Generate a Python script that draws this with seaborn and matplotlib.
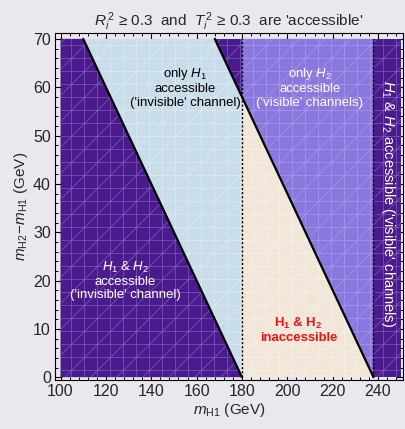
import matplotlib
matplotlib.use('Agg')
import matplotlib.pyplot as plt
import seaborn as sns
import pandas as pd
from matplotlib.ticker import MultipleLocator

# mass window of the scan (GeV)
mh1_min, mh1_max = 100, 250
dm_min, dm_max = 0, 70

# thresholds: diagonal lines are m_H2 = const, vertical lines are m_H1 = const
mh2_cut_invisible = 180
mh2_cut_visible = 238
mh1_cut_invisible = 180
mh1_cut_visible = 238

region_colors = {
    'both': '#4b1b8e',
    'only_h1': '#c8dcea',
    'only_h2': '#8b78de',
    'none': '#f1e7d9',
}
hatch_colors = {
    'both': '#7450b4',
    'only_h1': '#d9e7f1',
    'only_h2': '#a394e8',
    'none': '#f6efe5',
}

# lower dpi gives a finer hatch mesh; k rescales sizes back to the 100 dpi look
DPI = 78
k = 100 / DPI

sns.set_theme(style='ticks')
plt.rcParams['font.family'] = ['Liberation Sans', 'DejaVu Sans']
plt.rcParams['mathtext.fontset'] = 'custom'
plt.rcParams['mathtext.rm'] = 'Liberation Sans'
plt.rcParams['mathtext.it'] = 'Liberation Sans:italic'
plt.rcParams['mathtext.bf'] = 'Liberation Sans:bold'
plt.rcParams['hatch.linewidth'] = 0.6 * k

bg = '#ebe7ef'
fig = plt.figure(figsize=(405 / DPI, 429 / DPI), dpi=DPI, facecolor=bg)
ax = fig.add_axes([0.136, 0.114, 0.859, 0.809])
ax.set_facecolor(bg)


def diag(cut, y):
    # m_H1 on the line m_H2 = cut for a given m_H2 - m_H1
    return cut - y


def region(xs, ys, key):
    ax.fill(xs, ys, facecolor=region_colors[key], edgecolor=hatch_colors[key],
            hatch='/+', linewidth=0, zorder=1)


a_top = diag(mh2_cut_invisible, dm_max)
a_bot = diag(mh2_cut_invisible, dm_min)
b_top = diag(mh2_cut_visible, dm_max)
b_bot = diag(mh2_cut_visible, dm_min)
b_at_v1 = mh2_cut_visible - mh1_cut_invisible

# both accessible, invisible channel (left)
region([mh1_min, a_top, a_bot, mh1_min], [dm_max, dm_max, dm_min, dm_min], 'both')
# only H1 accessible
region([a_top, b_top, mh1_cut_invisible, mh1_cut_invisible, a_bot],
       [dm_max, dm_max, b_at_v1, dm_min, dm_min], 'only_h1')
# small top triangle: both accessible
region([b_top, mh1_cut_invisible, mh1_cut_invisible],
       [dm_max, dm_max, b_at_v1], 'both')
# inaccessible
region([mh1_cut_invisible, mh1_cut_invisible, b_bot],
       [b_at_v1, dm_min, dm_min], 'none')
# only H2 accessible
region([mh1_cut_invisible, mh1_cut_visible, mh1_cut_visible, mh1_cut_invisible],
       [dm_max, dm_max, dm_min, b_at_v1], 'only_h2')
# both accessible, visible channels (right)
region([mh1_cut_visible, mh1_max, mh1_max, mh1_cut_visible],
       [dm_max, dm_max, dm_min, dm_min], 'both')

lines = pd.DataFrame({
    'mh1': [a_top, a_bot, b_top, b_bot],
    'dm': [dm_max, dm_min, dm_max, dm_min],
    'line': ['a', 'a', 'b', 'b'],
})
sns.lineplot(data=lines, x='mh1', y='dm', units='line', estimator=None,
             color='black', linewidth=1.6 * k, sort=False, ax=ax, zorder=3)

walls = pd.DataFrame({
    'mh1': [mh1_cut_invisible, mh1_cut_invisible, mh1_cut_visible, mh1_cut_visible],
    'dm': [dm_min, dm_max, dm_min, dm_max],
    'line': ['v1', 'v1', 'v2', 'v2'],
})
sns.lineplot(data=walls, x='mh1', y='dm', units='line', estimator=None,
             color='black', linewidth=1.0 * k, linestyle=(0, (1.5, 1.5)), sort=False,
             ax=ax, zorder=3)

fs = 9.5 * k
txt = dict(ha='center', va='center', fontsize=fs, linespacing=1.15, zorder=4)
ax.text(155, 60, "only $H_1$\naccessible\n('invisible' channel)", color='black', **txt)
ax.text(210, 60, "only $H_2$\naccessible\n('visible' channels)", color='white', **txt)
ax.text(128.5, 20, "$H_1$ & $H_2$\naccessible\n('invisible' channel)", color='white', **txt)
ax.text(205, 9.8, "$\\mathbf{H_1}$ & $\\mathbf{H_2}$\ninaccessible", color='#ee1111',
        fontweight='bold', **txt)
ax.text(244.3, 36, "$H_1$ & $H_2$ accessible ('visible' channels)", color='white',
        rotation=270, ha='center', va='center', fontsize=10.5 * k, zorder=4)

ax.set_xlim(97.6, 251)
ax.set_ylim(-0.6, 71.2)
ax.xaxis.set_major_locator(MultipleLocator(20))
ax.xaxis.set_minor_locator(MultipleLocator(4))
ax.yaxis.set_major_locator(MultipleLocator(10))
ax.yaxis.set_minor_locator(MultipleLocator(2))
ax.tick_params(which='both', direction='in', top=True, right=True, color='black',
               labelsize=11.5 * k, pad=3 * k)
ax.tick_params(which='major', length=5 * k, width=0.8 * k)
ax.tick_params(which='minor', length=2.5 * k, width=0.7 * k)
for s in ax.spines.values():
    s.set_color('black')
    s.set_linewidth(0.8 * k)

ax.set_xlabel('$m_{\\mathrm{H1}}$ (GeV)', fontsize=11 * k, labelpad=1 * k)
ax.set_ylabel('$m_{\\mathrm{H2}}\\!-\\!m_{\\mathrm{H1}}$ (GeV)', fontsize=11 * k,
              labelpad=2 * k)
ax.set_title("$R_i^{\\,2}$ \u2265 0.3  and  $T_i^{\\,2}$ \u2265 0.3  are 'accessible'",
             fontsize=11 * k, pad=5 * k)

fig.savefig('out.png', dpi=DPI, facecolor=bg)
